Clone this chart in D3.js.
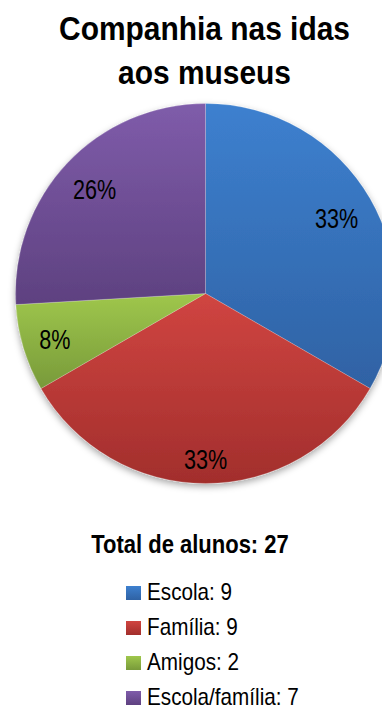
<!DOCTYPE html>
<html>
<head>
<meta charset="utf-8">
<script src="https://cdn.jsdelivr.net/npm/d3@7"></script>
<style>
  html, body { margin: 0; padding: 0; background: #fff; overflow: hidden; }
  svg { display: block; font-family: "Liberation Sans", Arial, sans-serif; }
</style>
</head>
<body>
<svg id="chart" width="382" height="707"></svg>
<script>
// Companhia nas idas aos museus — number of students per companion type
const categories = ["Escola", "Família", "Amigos", "Escola/família"];
const counts = [9, 9, 2, 7];
const pctLabels = ["33%", "33%", "8%", "26%"];
const titleLines = ["Companhia nas idas", "aos museus"];
const totalLabel = "Total de alunos: 27";

// top / bottom gradient stops for each slice
const colorTop = ["#3d80cf", "#d04541", "#9fc74c", "#7f5caa"];
const colorBottom = ["#2f62a4", "#a22e2c", "#789a3a", "#5e4180"];

const W = 382, H = 707;
const cx = 205.5, cy = 293.5, R = 190;

const svg = d3.select("#chart");
const defs = svg.append("defs");

categories.forEach((c, i) => {
  const g = defs.append("linearGradient")
    .attr("id", "grad" + i)
    .attr("x1", 0).attr("y1", 0).attr("x2", 0).attr("y2", 1);
  g.append("stop").attr("offset", "0%").attr("stop-color", colorTop[i]);
  g.append("stop").attr("offset", "100%").attr("stop-color", colorBottom[i]);
});

const shadow = defs.append("filter").attr("id", "pieShadow")
  .attr("x", "-20%").attr("y", "-20%").attr("width", "140%").attr("height", "140%");
shadow.append("feDropShadow")
  .attr("dx", 0).attr("dy", 3).attr("stdDeviation", 3.5)
  .attr("flood-color", "#000").attr("flood-opacity", 0.35);

// title (slightly condensed bold face)
svg.append("g").selectAll("text")
  .data(titleLines)
  .join("text")
  .attr("transform", (d, i) => `translate(204.5,${40 + i * 44}) scale(0.88,1)`)
  .attr("text-anchor", "middle")
  .attr("font-weight", "bold")
  .attr("font-size", 34)
  .attr("fill", "#000")
  .text(d => d);

// pie
const pie = d3.pie().sort(null).value(d => d)(counts);
const arc = d3.arc().innerRadius(0).outerRadius(R);

const pieG = svg.append("g").attr("transform", `translate(${cx},${cy})`);
pieG.append("g").attr("filter", "url(#pieShadow)")
  .selectAll("path")
  .data(pie)
  .join("path")
  .attr("d", arc)
  .attr("fill", (d, i) => `url(#grad${i})`)
  .attr("stroke", "rgba(255,255,255,0.35)")
  .attr("stroke-width", 0.6);

// percentage labels, inside the outer edge
const labelSize = 27, pad = 15;
const labels = pieG.append("g").selectAll("text")
  .data(pie)
  .join("text")
  .attr("font-size", labelSize)
  .attr("fill", "#000")
  .attr("text-anchor", "middle")
  .text((d, i) => pctLabels[i]);

labels.each(function (d) {
  const w = this.getComputedTextLength() * 0.8;
  const h = labelSize * 0.74;
  const a = (d.startAngle + d.endAngle) / 2;
  const ux = Math.sin(a), uy = -Math.cos(a);
  const ext = Math.abs(ux) * w / 2 + Math.abs(uy) * h / 2;
  const r = R - pad - ext;
  const x = ux * r, y = uy * r + h / 2;
  d3.select(this).attr("transform", `translate(${x},${y}) scale(0.8,1)`);
});

// legend
svg.append("text")
  .attr("transform", "translate(190,553) scale(0.88,1)")
  .attr("text-anchor", "middle")
  .attr("font-weight", "bold")
  .attr("font-size", 25)
  .attr("fill", "#000")
  .text(totalLabel);

const rowY = d3.scalePoint().domain(categories).range([600, 705]);
const legend = svg.append("g").selectAll("g")
  .data(categories)
  .join("g")
  .attr("transform", d => `translate(126,${rowY(d)})`);

legend.append("rect")
  .attr("x", 0).attr("y", -14)
  .attr("width", 15).attr("height", 14)
  .attr("fill", (d, i) => `url(#grad${i})`);

legend.append("text")
  .attr("transform", "translate(21,0) scale(0.9,1)")
  .attr("font-size", 23)
  .attr("fill", "#000")
  .text((d, i) => `${d}: ${counts[i]}`);
</script>
</body>
</html>
